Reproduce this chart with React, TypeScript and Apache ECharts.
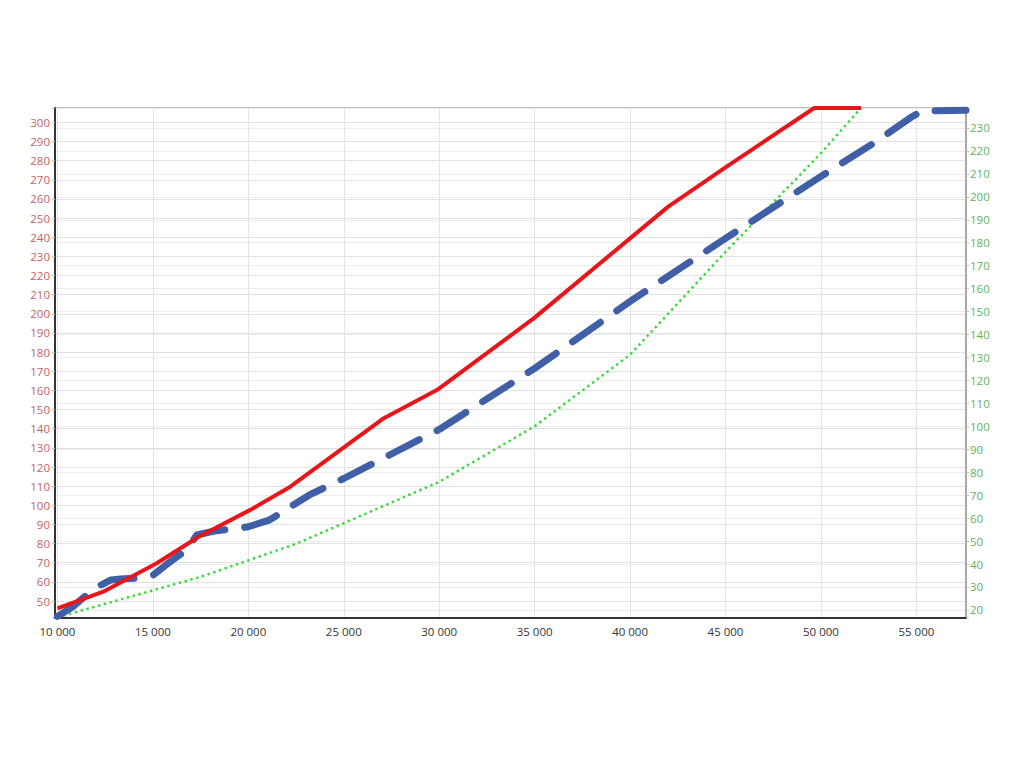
import React, { useEffect, useRef } from "react";
import * as echarts from "echarts";

// Red solid series (left axis)
const redX = [10000, 12400, 15200, 17400, 20100, 22200, 27100, 29900, 35000, 42000, 45000, 49650, 52100];
const redY = [46.2, 54.9, 69.7, 83.6, 97.6, 109.7, 145.5, 160.3, 198, 256, 276.5, 307.5, 307.5];

// Blue dashed series (left axis)
const blueX = [10000, 10800, 11500, 12300, 12800, 13300, 14300, 15000, 15700, 16800, 17300, 18200, 20000, 21100, 23200, 25000, 30000, 35000, 40000, 45000, 50000, 52900, 54700, 55300, 57600];
const blueY = [42, 47, 53, 58.5, 61, 61.5, 62, 63.5, 69, 77, 84.5, 86.5, 88.8, 92.3, 105.4, 114, 139.6, 171.5, 206.5, 239.4, 271.8, 290, 302.5, 306, 306.3];

// Green dotted series (right axis)
const greenX = [10000, 17500, 22500, 25000, 30000, 35000, 40000, 45000, 50000, 52100];
const greenY = [16.8, 34.4, 48.8, 57.8, 75.8, 100, 131.2, 176, 219, 238.7];

// Axis ranges and tick label limits
const xRange = [9870, 57600];
const xLabelStep = 5000;
const leftRange = [41.4, 307.5];
const leftLabelLimits = [50, 300];
const rightRange = [16.7, 238.7];
const rightLabelLimits = [20, 230];

const pairs = (xs: number[], ys: number[]) => xs.map((x, i) => [x, ys[i]]);
const fmtThousands = (v: number) =>
  String(Math.round(v)).replace(/\B(?=(\d{3})+(?!\d))/g, " ");

const FONT = "'Open Sans', 'Noto Sans', sans-serif";

export default function App() {
  const ref = useRef<HTMLDivElement>(null);

  useEffect(() => {
    if (!ref.current) return;
    const chart = echarts.init(ref.current, undefined, { renderer: "svg" });
    chart.setOption({
      animation: false,
      backgroundColor: "#ffffff",
      grid: {
        left: 55,
        right: 58,
        top: 108,
        bottom: 150.5,
        show: true,
        borderColor: "#7a7a7a",
        borderWidth: 1,
        backgroundColor: "transparent",
      },
      xAxis: {
        type: "value",
        min: xRange[0],
        max: xRange[1],
        splitNumber: 10,
        axisLine: { show: true, onZero: false, lineStyle: { color: "#333", width: 2 } },
        axisTick: { show: false },
        axisLabel: {
          color: "#333",
          fontFamily: FONT,
          fontSize: 11.5,
          margin: 8,
          formatter: (v: number) =>
            Math.abs(v % xLabelStep) < 1e-6 && v <= 55000 ? fmtThousands(v) : "",
        },
        splitLine: { show: true, lineStyle: { color: "#e4e4e4", width: 1 } },
      },
      yAxis: [
        {
          type: "value",
          position: "left",
          min: leftRange[0],
          max: leftRange[1],
          splitNumber: 26,
          axisLine: { show: true, onZero: false, lineStyle: { color: "#333", width: 2 } },
          axisTick: { show: true, length: 3, lineStyle: { color: "#bbb" } },
          axisLabel: {
            color: "#c46262",
            fontFamily: FONT,
            fontSize: 11.5,
            margin: 5,
            formatter: (v: number) => {
              const r = Math.round(v);
              return Math.abs(v - r) < 1e-6 && r % 10 === 0 && r >= leftLabelLimits[0] && r <= leftLabelLimits[1]
                ? String(r)
                : "";
            },
          },
          splitLine: { show: true, lineStyle: { color: "#e2e2e2", width: 1 } },
        },
        {
          type: "value",
          position: "right",
          min: rightRange[0],
          max: rightRange[1],
          splitNumber: 22,
          axisLine: { show: true, onZero: false, lineStyle: { color: "#a8a8a8", width: 2 } },
          axisTick: { show: true, length: 3, lineStyle: { color: "#bbb" } },
          axisLabel: {
            color: "#5cb35c",
            fontFamily: FONT,
            fontSize: 11.5,
            margin: 4,
            formatter: (v: number) => {
              const r = Math.round(v);
              return Math.abs(v - r) < 1e-6 && r % 10 === 0 && r >= rightLabelLimits[0] && r <= rightLabelLimits[1]
                ? String(r)
                : "";
            },
          },
          splitLine: { show: true, lineStyle: { color: "#ededed", width: 1 } },
        },
      ],
      series: [
        {
          type: "line",
          name: "green",
          yAxisIndex: 1,
          data: pairs(greenX, greenY),
          showSymbol: false,
          symbol: "none",
          lineStyle: { color: "#3fd83f", width: 2.5, type: [2.5, 3.5], cap: "butt" },
          z: 2,
        },
        {
          type: "line",
          name: "blue",
          yAxisIndex: 0,
          data: pairs(blueX, blueY),
          showSymbol: false,
          symbol: "none",
          lineStyle: { color: "#3f5fa6", width: 7, type: [34, 20], cap: "round", join: "round" },
          z: 3,
        },
        {
          type: "line",
          name: "red",
          yAxisIndex: 0,
          data: pairs(redX, redY),
          showSymbol: false,
          symbol: "none",
          lineStyle: { color: "#e8161b", width: 4, join: "round" },
          z: 4,
        },
      ],
    });
    return () => chart.dispose();
  }, []);

  return (
    <div
      ref={ref}
      style={{ position: "fixed", left: 0, top: 0, width: 1024, height: 768, background: "#fff" }}
    />
  );
}
